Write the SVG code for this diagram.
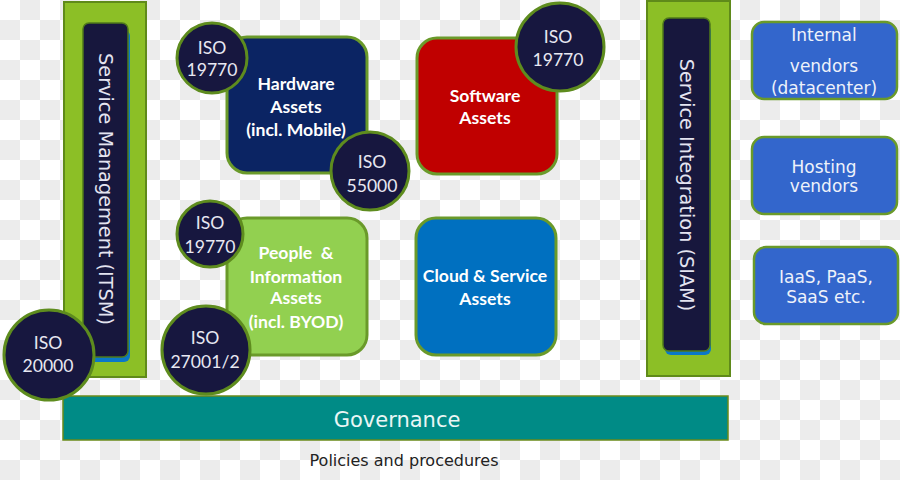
<svg xmlns="http://www.w3.org/2000/svg" width="900" height="480" viewBox="0 0 900 480">
<defs>
<pattern id="checker" x="0" y="0" width="40" height="40" patternUnits="userSpaceOnUse">
<rect x="0" y="0" width="40" height="40" fill="#ffffff"/>
<rect x="20" y="0" width="20" height="20" fill="#ececec"/>
<rect x="0" y="20" width="20" height="20" fill="#ececec"/>
</pattern>
</defs>
<style>
.bar{fill:#8cbf26;stroke:#5f8a1a;stroke-width:2}
.inner{fill:#17173d;stroke:#4f7a1a;stroke-width:1.5}
.shadow{fill:#0a78c8}
.asset{stroke:#6a9a2a;stroke-width:3}
.iso{fill:#17173f;stroke:#5e8c1e;stroke-width:3}
.vendor{fill:#3366cc;stroke:#6a9a2a;stroke-width:2.5}
.bold{font-family:Lato,"Open Sans",sans-serif;font-weight:bold;font-size:17.6px;fill:#ffffff;text-anchor:middle}
.isot{font-family:Lato,"Open Sans",sans-serif;font-size:17.6px;fill:#e8e8f2;text-anchor:middle}
.vt{font-family:"DejaVu Sans",Verdana,sans-serif;font-size:17px;fill:#eef2fa;text-anchor:middle}
.vert{font-family:"DejaVu Sans",Verdana,sans-serif;font-size:19.3px;fill:#e4e4f0;text-anchor:middle;dominant-baseline:central}
</style>
<rect x="0" y="0" width="900" height="480" fill="url(#checker)"/>

<g id="itsm">
<rect class="bar" x="64" y="2" width="82" height="375"/>
<rect class="shadow" x="85" y="30" width="45" height="332" rx="6"/>
<rect class="inner" x="83" y="23" width="45" height="334" rx="6"/>
<text class="vert" x="105" y="189" transform="rotate(90 105 189)">Service Management (ITSM)</text>
</g>

<g id="siam">
<rect class="bar" x="647" y="1" width="83" height="375"/>
<rect class="shadow" x="665" y="25" width="46" height="330" rx="6"/>
<rect class="inner" x="663" y="18" width="47" height="333" rx="6"/>
<text class="vert" x="686" y="185" transform="rotate(90 686 185)">Service Integration (SIAM)</text>
</g>

<g id="governance">
<rect x="63" y="396" width="665" height="44" fill="#008b86" stroke="#6a8a1a" stroke-width="1.5"/>
<text x="397" y="427" font-family="'DejaVu Sans',Verdana,sans-serif" font-size="21" fill="#eaf6f5" text-anchor="middle">Governance</text>
</g>

<g id="policies">
<text x="404" y="466" font-family="'DejaVu Sans',Verdana,sans-serif" font-size="16" fill="#222222" text-anchor="middle">Policies and procedures</text>
</g>

<g id="hardware">
<rect class="asset" x="227" y="37" width="140" height="136" rx="20" fill="#0b2463"/>
<text class="bold" x="296" y="90">Hardware</text>
<text class="bold" x="296" y="113">Assets</text>
<text class="bold" x="296" y="136">(incl. Mobile)</text>
</g>

<g id="software">
<rect class="asset" x="417" y="38" width="140" height="136" rx="20" fill="#c00000"/>
<text class="bold" x="485" y="102">Software</text>
<text class="bold" x="485" y="124">Assets</text>
</g>

<g id="people">
<rect class="asset" x="227" y="218" width="140" height="137" rx="20" fill="#92d050"/>
<text class="bold" x="296" y="259" style="white-space:pre">People  &amp;</text>
<text class="bold" x="296" y="283">Information</text>
<text class="bold" x="296" y="304">Assets</text>
<text class="bold" x="296" y="328">(incl. BYOD)</text>
</g>

<g id="cloud">
<rect class="asset" x="416" y="218" width="140" height="137" rx="20" fill="#0070c0"/>
<text class="bold" x="485" y="282">Cloud &amp; Service</text>
<text class="bold" x="485" y="305">Assets</text>
</g>

<g id="iso19770-hw">
<circle class="iso" cx="212" cy="58" r="35"/>
<text class="isot" x="212" y="54">ISO</text>
<text class="isot" x="212" y="76">19770</text>
</g>

<g id="iso19770-sw">
<circle class="iso" cx="560" cy="47" r="44"/>
<text class="isot" x="558" y="43">ISO</text>
<text class="isot" x="558" y="66">19770</text>
</g>

<g id="iso55000">
<circle class="iso" cx="370" cy="171" r="39"/>
<text class="isot" x="372" y="168">ISO</text>
<text class="isot" x="372" y="192">55000</text>
</g>

<g id="iso19770-people">
<circle class="iso" cx="210" cy="234" r="33"/>
<text class="isot" x="210" y="229">ISO</text>
<text class="isot" x="210" y="253">19770</text>
</g>

<g id="iso27001">
<circle class="iso" cx="206" cy="350" r="44"/>
<text class="isot" x="205" y="344">ISO</text>
<text class="isot" x="205" y="368">27001/2</text>
</g>

<g id="iso20000">
<circle class="iso" cx="49" cy="355" r="45"/>
<text class="isot" x="48" y="349">ISO</text>
<text class="isot" x="48" y="372">20000</text>
</g>

<g id="internal">
<rect class="vendor" x="752" y="22" width="145" height="77" rx="12"/>
<text class="vt" x="824" y="41">Internal</text>
<text class="vt" x="824" y="72">vendors</text>
<text class="vt" x="824" y="94">(datacenter)</text>
</g>

<g id="hosting">
<rect class="vendor" x="752" y="137" width="145" height="77" rx="12"/>
<text class="vt" x="824" y="173">Hosting</text>
<text class="vt" x="824" y="192">vendors</text>
</g>

<g id="cloudvendors">
<rect class="vendor" x="754" y="247" width="144" height="77" rx="12"/>
<text class="vt" x="826" y="283">IaaS, PaaS,</text>
<text class="vt" x="826" y="303">SaaS etc.</text>
</g>
</svg>
